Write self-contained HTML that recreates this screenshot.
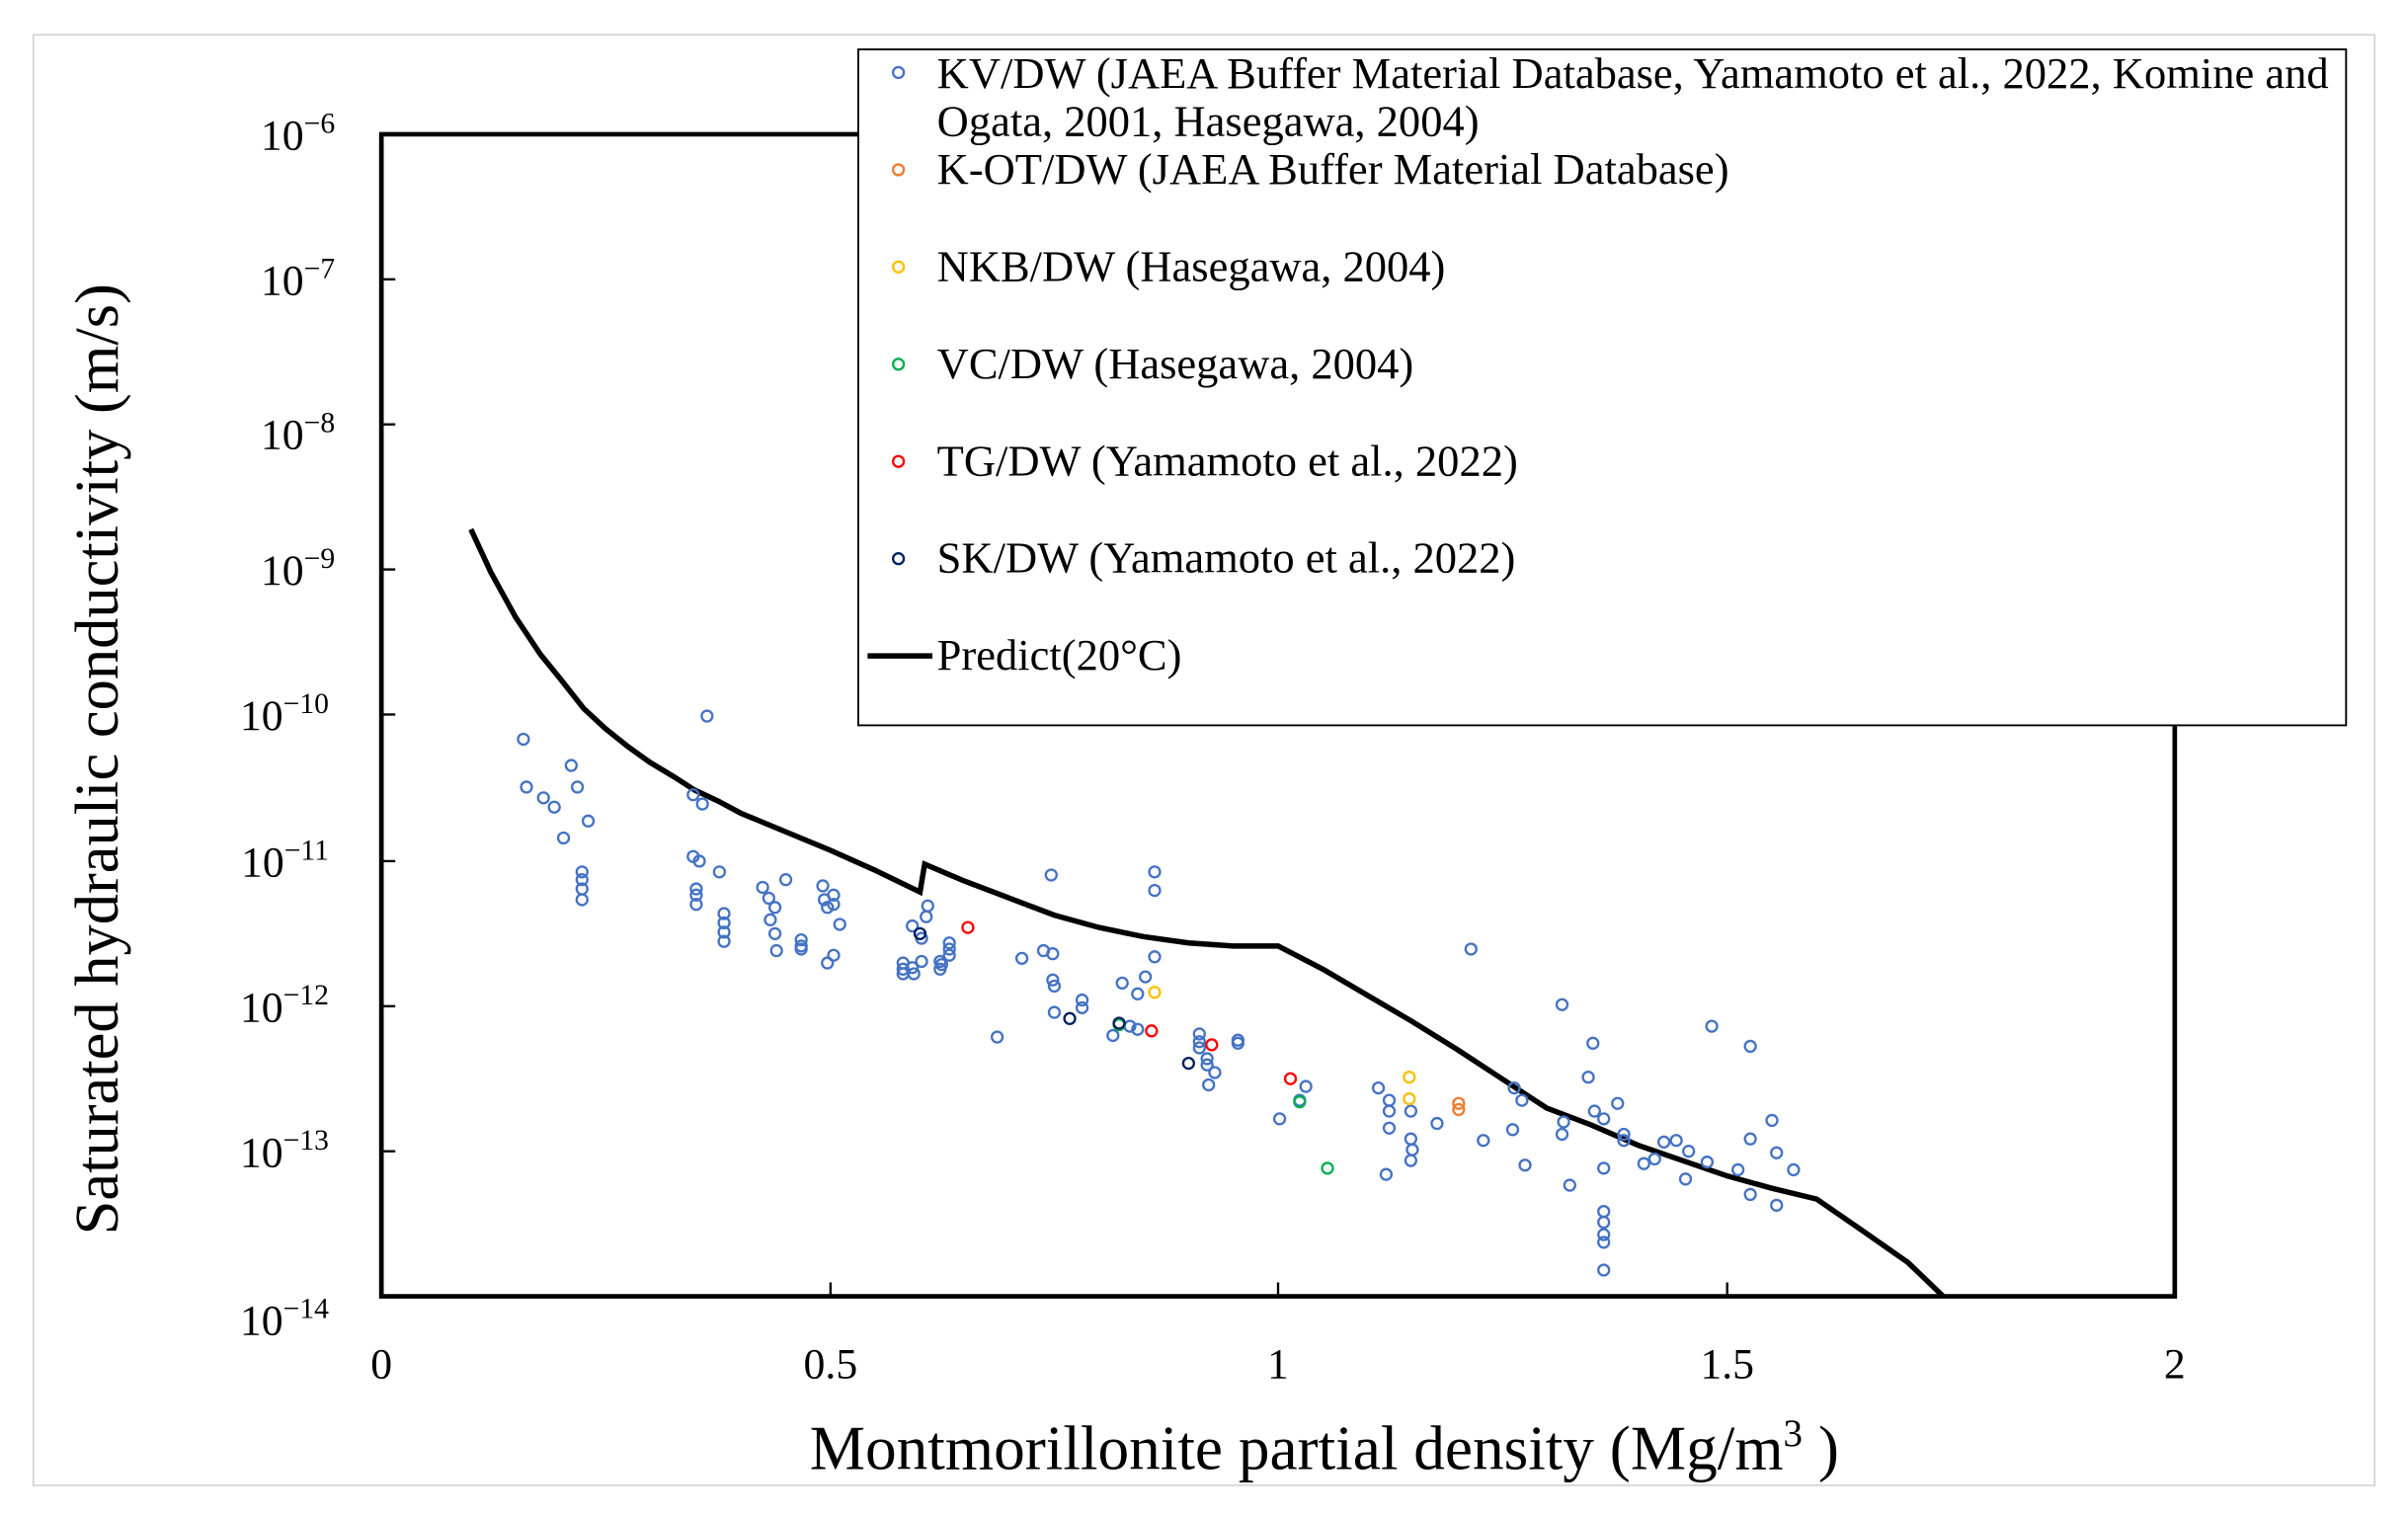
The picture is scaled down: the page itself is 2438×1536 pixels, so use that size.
<!DOCTYPE html>
<html><head><meta charset="utf-8"><style>html,body{margin:0;padding:0;background:#fff}svg{display:block}</style></head><body>
<svg width="2438" height="1536" viewBox="0 0 1560 983" xmlns="http://www.w3.org/2000/svg" font-family="Liberation Serif, serif">
<rect x="0" y="0" width="1560" height="983" fill="#fff"/>
<rect x="21.5" y="22.5" width="1517" height="940" fill="none" stroke="#d0d0d0" stroke-width="1"/>
<g stroke="#000" stroke-width="3" fill="none">
<polyline points="556,87 247,87 247,840 1409,840 1409,470"/>
</g>
<g stroke="#000" stroke-width="1.5">
<line x1="247" y1="181" x2="256" y2="181"/><line x1="247" y1="275" x2="256" y2="275"/><line x1="247" y1="369" x2="256" y2="369"/><line x1="247" y1="463" x2="256" y2="463"/><line x1="247" y1="558" x2="256" y2="558"/><line x1="247" y1="652" x2="256" y2="652"/><line x1="247" y1="746" x2="256" y2="746"/>
<line x1="538" y1="840" x2="538" y2="831"/><line x1="828" y1="840" x2="828" y2="831"/><line x1="1119" y1="840" x2="1119" y2="831"/>
</g>
<g font-size="28" text-anchor="end" fill="#000">
<text x="217" y="97">10<tspan dy="-11" font-size="19">−6</tspan></text>
<text x="217" y="191">10<tspan dy="-11" font-size="19">−7</tspan></text>
<text x="217" y="291">10<tspan dy="-11" font-size="19">−8</tspan></text>
<text x="217" y="379">10<tspan dy="-11" font-size="19">−9</tspan></text>
<text x="213" y="473">10<tspan dy="-11" font-size="19">−10</tspan></text>
<text x="213" y="568">10<tspan dy="-11" font-size="19">−11</tspan></text>
<text x="213" y="662">10<tspan dy="-11" font-size="19">−12</tspan></text>
<text x="213" y="756">10<tspan dy="-11" font-size="19">−13</tspan></text>
<text x="213" y="865">10<tspan dy="-11" font-size="19">−14</tspan></text>
</g>
<g font-size="28" text-anchor="middle">
<text x="247" y="893">0</text><text x="538" y="893">0.5</text><text x="828" y="893">1</text><text x="1119" y="893">1.5</text><text x="1409" y="893">2</text>
</g>
<text x="858" y="952" font-size="40.5" text-anchor="middle">Montmorillonite partial density (Mg/m<tspan dy="-15" font-size="25">3</tspan><tspan dy="15"> )</tspan></text>
<text transform="translate(76,492) rotate(-90)" font-size="40" text-anchor="middle">Saturated hydraulic conductivity (m/s)</text>
<polyline fill="none" stroke="#000" stroke-width="3.5" points="305,343 318,371 334,400 350,424 363,440 378,459 392,472 407,484 421,494 436,503 450,512 465,519 480,527 509,539 538,551 567,564 596,578 599,560 625,571 654,582 683,593 712,601 741,607 770,611 799,613 828,613 857,628 886,645 915,662 944,680 973,699 1002,718 1031,729 1061,742 1090,752 1119,762 1148,770 1177,777 1206,797 1236,818 1259,840"/>
<g fill="none" stroke="#4472c4" stroke-width="1.5">
<circle cx="339" cy="479" r="3.5"/><circle cx="341" cy="510" r="3.5"/><circle cx="352" cy="517" r="3.5"/><circle cx="359" cy="523" r="3.5"/><circle cx="365" cy="543" r="3.5"/><circle cx="370" cy="496" r="3.5"/><circle cx="374" cy="510" r="3.5"/><circle cx="381" cy="532" r="3.5"/>
<circle cx="377" cy="565" r="3.5"/><circle cx="377" cy="570" r="3.5"/><circle cx="377" cy="576" r="3.5"/><circle cx="377" cy="583" r="3.5"/>
<circle cx="458" cy="464" r="3.5"/><circle cx="449" cy="515" r="3.5"/><circle cx="455" cy="521" r="3.5"/><circle cx="449" cy="555" r="3.5"/><circle cx="453" cy="558" r="3.5"/><circle cx="451" cy="576" r="3.5"/><circle cx="451" cy="580" r="3.5"/><circle cx="451" cy="586" r="3.5"/><circle cx="466" cy="565" r="3.5"/>
<circle cx="469" cy="592" r="3.5"/><circle cx="469" cy="598" r="3.5"/><circle cx="469" cy="604" r="3.5"/><circle cx="469" cy="610" r="3.5"/>
<circle cx="494" cy="575" r="3.5"/><circle cx="498" cy="582" r="3.5"/><circle cx="502" cy="588" r="3.5"/><circle cx="509" cy="570" r="3.5"/><circle cx="499" cy="596" r="3.5"/><circle cx="502" cy="605" r="3.5"/><circle cx="503" cy="616" r="3.5"/>
<circle cx="519" cy="609" r="3.5"/><circle cx="519" cy="613" r="3.5"/><circle cx="519" cy="615" r="3.5"/>
<circle cx="533" cy="574" r="3.5"/><circle cx="534" cy="583" r="3.5"/><circle cx="540" cy="580" r="3.5"/><circle cx="540" cy="586" r="3.5"/><circle cx="536" cy="588" r="3.5"/><circle cx="544" cy="599" r="3.5"/><circle cx="540" cy="619" r="3.5"/><circle cx="536" cy="624" r="3.5"/>
<circle cx="585" cy="624" r="3.5"/><circle cx="585" cy="628" r="3.5"/><circle cx="585" cy="631" r="3.5"/><circle cx="591" cy="627" r="3.5"/><circle cx="592" cy="631" r="3.5"/><circle cx="597" cy="623" r="3.5"/>
<circle cx="591" cy="600" r="3.5"/><circle cx="597" cy="608" r="3.5"/><circle cx="600" cy="594" r="3.5"/><circle cx="601" cy="587" r="3.5"/>
<circle cx="609" cy="623" r="3.5"/><circle cx="609" cy="628" r="3.5"/><circle cx="615" cy="611" r="3.5"/><circle cx="615" cy="615" r="3.5"/><circle cx="615" cy="619" r="3.5"/><circle cx="610" cy="625" r="3.5"/>
<circle cx="646" cy="672" r="3.5"/><circle cx="662" cy="621" r="3.5"/><circle cx="681" cy="567" r="3.5"/><circle cx="676" cy="616" r="3.5"/><circle cx="682" cy="618" r="3.5"/><circle cx="682" cy="635" r="3.5"/><circle cx="683" cy="639" r="3.5"/><circle cx="683" cy="656" r="3.5"/>
<circle cx="701" cy="648" r="3.5"/><circle cx="701" cy="653" r="3.5"/><circle cx="721" cy="671" r="3.5"/><circle cx="727" cy="637" r="3.5"/><circle cx="732" cy="665" r="3.5"/><circle cx="737" cy="667" r="3.5"/><circle cx="737" cy="644" r="3.5"/><circle cx="742" cy="633" r="3.5"/><circle cx="748" cy="620" r="3.5"/>
<circle cx="748" cy="565" r="3.5"/><circle cx="748" cy="577" r="3.5"/>
<circle cx="777" cy="670" r="3.5"/><circle cx="777" cy="675" r="3.5"/><circle cx="777" cy="679" r="3.5"/><circle cx="782" cy="686" r="3.5"/><circle cx="782" cy="690" r="3.5"/><circle cx="787" cy="695" r="3.5"/><circle cx="783" cy="703" r="3.5"/>
<circle cx="802" cy="674" r="3.5"/><circle cx="802" cy="676" r="3.5"/><circle cx="829" cy="725" r="3.5"/><circle cx="846" cy="704" r="3.5"/><circle cx="842" cy="713" r="3.5"/>
<circle cx="893" cy="705" r="3.5"/><circle cx="900" cy="713" r="3.5"/><circle cx="900" cy="720" r="3.5"/><circle cx="900" cy="731" r="3.5"/><circle cx="898" cy="761" r="3.5"/><circle cx="914" cy="720" r="3.5"/><circle cx="914" cy="738" r="3.5"/><circle cx="915" cy="745" r="3.5"/><circle cx="914" cy="752" r="3.5"/><circle cx="931" cy="728" r="3.5"/>
<circle cx="953" cy="615" r="3.5"/><circle cx="961" cy="739" r="3.5"/><circle cx="981" cy="705" r="3.5"/><circle cx="986" cy="713" r="3.5"/><circle cx="980" cy="732" r="3.5"/><circle cx="988" cy="755" r="3.5"/>
<circle cx="1012" cy="651" r="3.5"/><circle cx="1013" cy="727" r="3.5"/><circle cx="1012" cy="735" r="3.5"/><circle cx="1017" cy="768" r="3.5"/>
<circle cx="1032" cy="676" r="3.5"/><circle cx="1029" cy="698" r="3.5"/><circle cx="1033" cy="720" r="3.5"/><circle cx="1039" cy="725" r="3.5"/><circle cx="1048" cy="715" r="3.5"/><circle cx="1052" cy="735" r="3.5"/><circle cx="1052" cy="739" r="3.5"/><circle cx="1039" cy="757" r="3.5"/>
<circle cx="1039" cy="785" r="3.5"/><circle cx="1039" cy="792" r="3.5"/><circle cx="1039" cy="800" r="3.5"/><circle cx="1039" cy="805" r="3.5"/><circle cx="1039" cy="823" r="3.5"/>
<circle cx="1065" cy="754" r="3.5"/><circle cx="1072" cy="751" r="3.5"/><circle cx="1078" cy="740" r="3.5"/><circle cx="1086" cy="739" r="3.5"/><circle cx="1094" cy="746" r="3.5"/><circle cx="1092" cy="764" r="3.5"/><circle cx="1106" cy="753" r="3.5"/>
<circle cx="1109" cy="665" r="3.5"/><circle cx="1134" cy="678" r="3.5"/><circle cx="1126" cy="758" r="3.5"/><circle cx="1134" cy="738" r="3.5"/><circle cx="1134" cy="774" r="3.5"/><circle cx="1148" cy="726" r="3.5"/><circle cx="1151" cy="747" r="3.5"/><circle cx="1151" cy="781" r="3.5"/><circle cx="1162" cy="758" r="3.5"/>
</g>
<g fill="none" stroke="#ed7d31" stroke-width="1.5"><circle cx="945" cy="715" r="3.5"/><circle cx="945" cy="719" r="3.5"/></g>
<g fill="none" stroke="#ffc000" stroke-width="1.5"><circle cx="748" cy="643" r="3.5"/><circle cx="913" cy="698" r="3.5"/><circle cx="913" cy="712" r="3.5"/></g>
<g fill="none" stroke="#00b050" stroke-width="1.5"><circle cx="725" cy="664" r="3.5"/><circle cx="842" cy="714" r="3.5"/><circle cx="860" cy="757" r="3.5"/></g>
<g fill="none" stroke="#ff0000" stroke-width="1.5"><circle cx="627" cy="601" r="3.5"/><circle cx="746" cy="668" r="3.5"/><circle cx="785" cy="677" r="3.5"/><circle cx="836" cy="699" r="3.5"/></g>
<g fill="none" stroke="#002060" stroke-width="1.5"><circle cx="596" cy="605" r="3.5"/><circle cx="693" cy="660" r="3.5"/><circle cx="725" cy="663" r="3.5"/><circle cx="770" cy="689" r="3.5"/></g>
<rect x="556" y="32" width="964" height="438" fill="#fff" stroke="#000" stroke-width="1.2"/>
<g font-size="28.5" fill="#000">
<circle cx="582" cy="47" r="3.5" fill="none" stroke="#4472c4" stroke-width="1.5"/>
<text x="607" y="57">KV/DW (JAEA Buffer Material Database, Yamamoto et al., 2022, Komine and</text>
<text x="607" y="88">Ogata, 2001, Hasegawa, 2004)</text>
<circle cx="582" cy="110" r="3.5" fill="none" stroke="#ed7d31" stroke-width="1.5"/>
<text x="607" y="119">K-OT/DW (JAEA Buffer Material Database)</text>
<circle cx="582" cy="173" r="3.5" fill="none" stroke="#ffc000" stroke-width="1.5"/>
<text x="607" y="182">NKB/DW (Hasegawa, 2004)</text>
<circle cx="582" cy="236" r="3.5" fill="none" stroke="#00b050" stroke-width="1.5"/>
<text x="607" y="245">VC/DW (Hasegawa, 2004)</text>
<circle cx="582" cy="299" r="3.5" fill="none" stroke="#ff0000" stroke-width="1.5"/>
<text x="607" y="308">TG/DW (Yamamoto et al., 2022)</text>
<circle cx="582" cy="362" r="3.5" fill="none" stroke="#002060" stroke-width="1.5"/>
<text x="607" y="371">SK/DW (Yamamoto et al., 2022)</text>
<line x1="562" y1="425" x2="604" y2="425" stroke="#000" stroke-width="3.5"/>
<text x="607" y="434">Predict(20°C)</text>
</g>
</svg>
</body></html>
